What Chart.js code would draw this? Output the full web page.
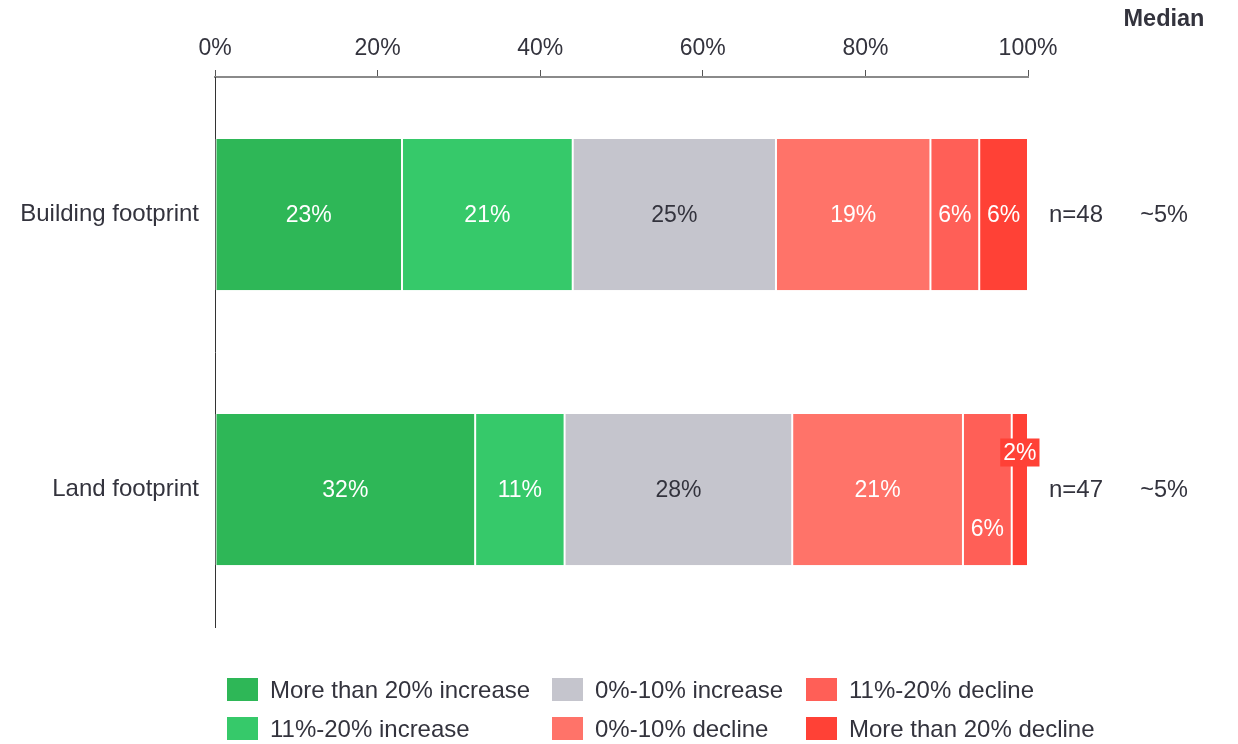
<!DOCTYPE html>
<html>
<head>
<meta charset="utf-8">
<script src="https://cdn.jsdelivr.net/npm/chart.js@4.4.1/dist/chart.umd.min.js"></script>
<style>
  html, body { margin: 0; padding: 0; background: #ffffff; }
  #wrap { width: 1238px; height: 744px; position: relative; }
</style>
</head>
<body>
<div id="wrap"><canvas id="chart" width="1238" height="744"></canvas></div>
<script>
// Categories and survey values (percent of respondents)
const categories = ['Building footprint', 'Land footprint'];
const seriesNames = [
  'More than 20% increase',
  '11%-20% increase',
  '0%-10% increase',
  '0%-10% decline',
  '11%-20% decline',
  'More than 20% decline'
];
const moreThan20Increase = [23, 32];
const increase11to20 = [21, 11];
const increase0to10 = [25, 28];
const decline0to10 = [19, 21];
const decline11to20 = [6, 6];
const moreThan20Decline = [6, 2];
const sampleSizes = ['n=48', 'n=47'];
const medians = ['~5%', '~5%'];
const xTicks = [0, 20, 40, 60, 80, 100];

const seriesValues = [moreThan20Increase, increase11to20, increase0to10, decline0to10, decline11to20, moreThan20Decline];
const seriesColors = ['#2eb757', '#36c96a', '#c5c5cd', '#ff7369', '#ff5f57', '#ff4136'];
const labelColors = ['#ffffff', '#ffffff', '#33333d', '#ffffff', '#ffffff', '#ffffff'];

const FONT = '"Liberation Sans", Arial, Helvetica, sans-serif';
const TEXT = '#33333d';

// small segments whose label is nudged off the bar centre: [dataset, index, dy, boxed]
const labelNudges = [
  [5, 1, -37, true],
  [4, 1, 39, false]
];

const segmentLabels = {
  id: 'segmentLabels',
  afterDatasetsDraw(chart) {
    const ctx = chart.ctx;
    ctx.save();
    ctx.font = '23px ' + FONT;
    ctx.textAlign = 'center';
    ctx.textBaseline = 'middle';
    chart.data.datasets.forEach((ds, di) => {
      const meta = chart.getDatasetMeta(di);
      meta.data.forEach((el, i) => {
        const v = ds.data[i];
        const txt = v + '%';
        let x = (el.x + el.base) / 2;
        let y = el.y;
        let boxed = false;
        labelNudges.forEach(n => {
          if (n[0] === di && n[1] === i) { y += n[2]; boxed = n[3]; }
        });
        if (boxed) {
          const w = ctx.measureText(txt).width + 6;
          ctx.fillStyle = seriesColors[di];
          ctx.fillRect(x - w / 2, y - 14, w, 28);
        }
        ctx.fillStyle = labelColors[di];
        ctx.fillText(txt, x, y + 1);
      });
    });
    ctx.restore();
  }
};

const sideColumns = {
  id: 'sideColumns',
  afterDraw(chart) {
    const ctx = chart.ctx;
    const yScale = chart.scales.y;
    ctx.save();
    ctx.fillStyle = TEXT;
    ctx.textBaseline = 'middle';
    ctx.textAlign = 'center';
    ctx.font = 'bold 23.5px ' + FONT;
    ctx.fillText('Median', 1164, 20);
    categories.forEach((c, i) => {
      const y = yScale.getPixelForValue(i);
      ctx.font = '24px ' + FONT;
      ctx.textAlign = 'left';
      ctx.fillText(sampleSizes[i], 1049, y + 1);
      ctx.font = '23.5px ' + FONT;
      ctx.textAlign = 'center';
      ctx.fillText(medians[i], 1164, y + 1);
    });
    ctx.restore();
  }
};

const gridLegend = {
  id: 'gridLegend',
  afterDraw(chart) {
    const ctx = chart.ctx;
    const cols = [227, 552, 806];
    const rows = [690, 729];
    ctx.save();
    ctx.font = '24px ' + FONT;
    ctx.textBaseline = 'middle';
    ctx.textAlign = 'left';
    chart.data.datasets.forEach((ds, di) => {
      const cx = cols[Math.floor(di / 2)];
      const cy = rows[di % 2];
      ctx.fillStyle = ds.backgroundColor;
      ctx.fillRect(cx, cy - 12, 31, 23);
      ctx.fillStyle = TEXT;
      ctx.fillText(ds.label, cx + 43, cy + 1);
    });
    ctx.restore();
  }
};

new Chart(document.getElementById('chart'), {
  type: 'bar',
  data: {
    labels: categories,
    datasets: seriesNames.map((name, i) => ({
      label: name,
      data: seriesValues[i],
      backgroundColor: seriesColors[i],
      borderColor: '#ffffff',
      borderWidth: { top: 0, bottom: 0, left: 1, right: 1 },
      borderSkipped: false,
      barPercentage: 0.55,
      categoryPercentage: 1
    }))
  },
  options: {
    indexAxis: 'y',
    responsive: false,
    animation: false,
    devicePixelRatio: 1,
    layout: { padding: { left: 0, right: 210, top: 0, bottom: 117 } },
    plugins: {
      legend: { display: false },
      tooltip: { enabled: false }
    },
    scales: {
      x: {
        position: 'top',
        stacked: true,
        min: 0,
        max: 100,
        afterBuildTicks(scale) { scale.ticks = xTicks.map(v => ({ value: v })); },
        afterFit(scale) { scale.height = 77; },
        ticks: {
          callback: v => v + '%',
          color: TEXT,
          font: { family: FONT, size: 23 },
          padding: 8,
          maxRotation: 0
        },
        grid: {
          drawOnChartArea: false,
          drawTicks: true,
          tickLength: 7,
          color: '#555555',
          lineWidth: 1
        },
        border: { display: true, color: '#8a8a8a', width: 2 }
      },
      y: {
        stacked: true,
        afterFit(scale) { scale.width = 215; },
        ticks: {
          color: TEXT,
          font: { family: FONT, size: 24 },
          padding: 16
        },
        grid: { display: true, drawOnChartArea: false, drawTicks: false },
        border: { display: true, color: '#333333', width: 1 }
      }
    }
  },
  plugins: [segmentLabels, sideColumns, gridLegend]
});
</script>
</body>
</html>
